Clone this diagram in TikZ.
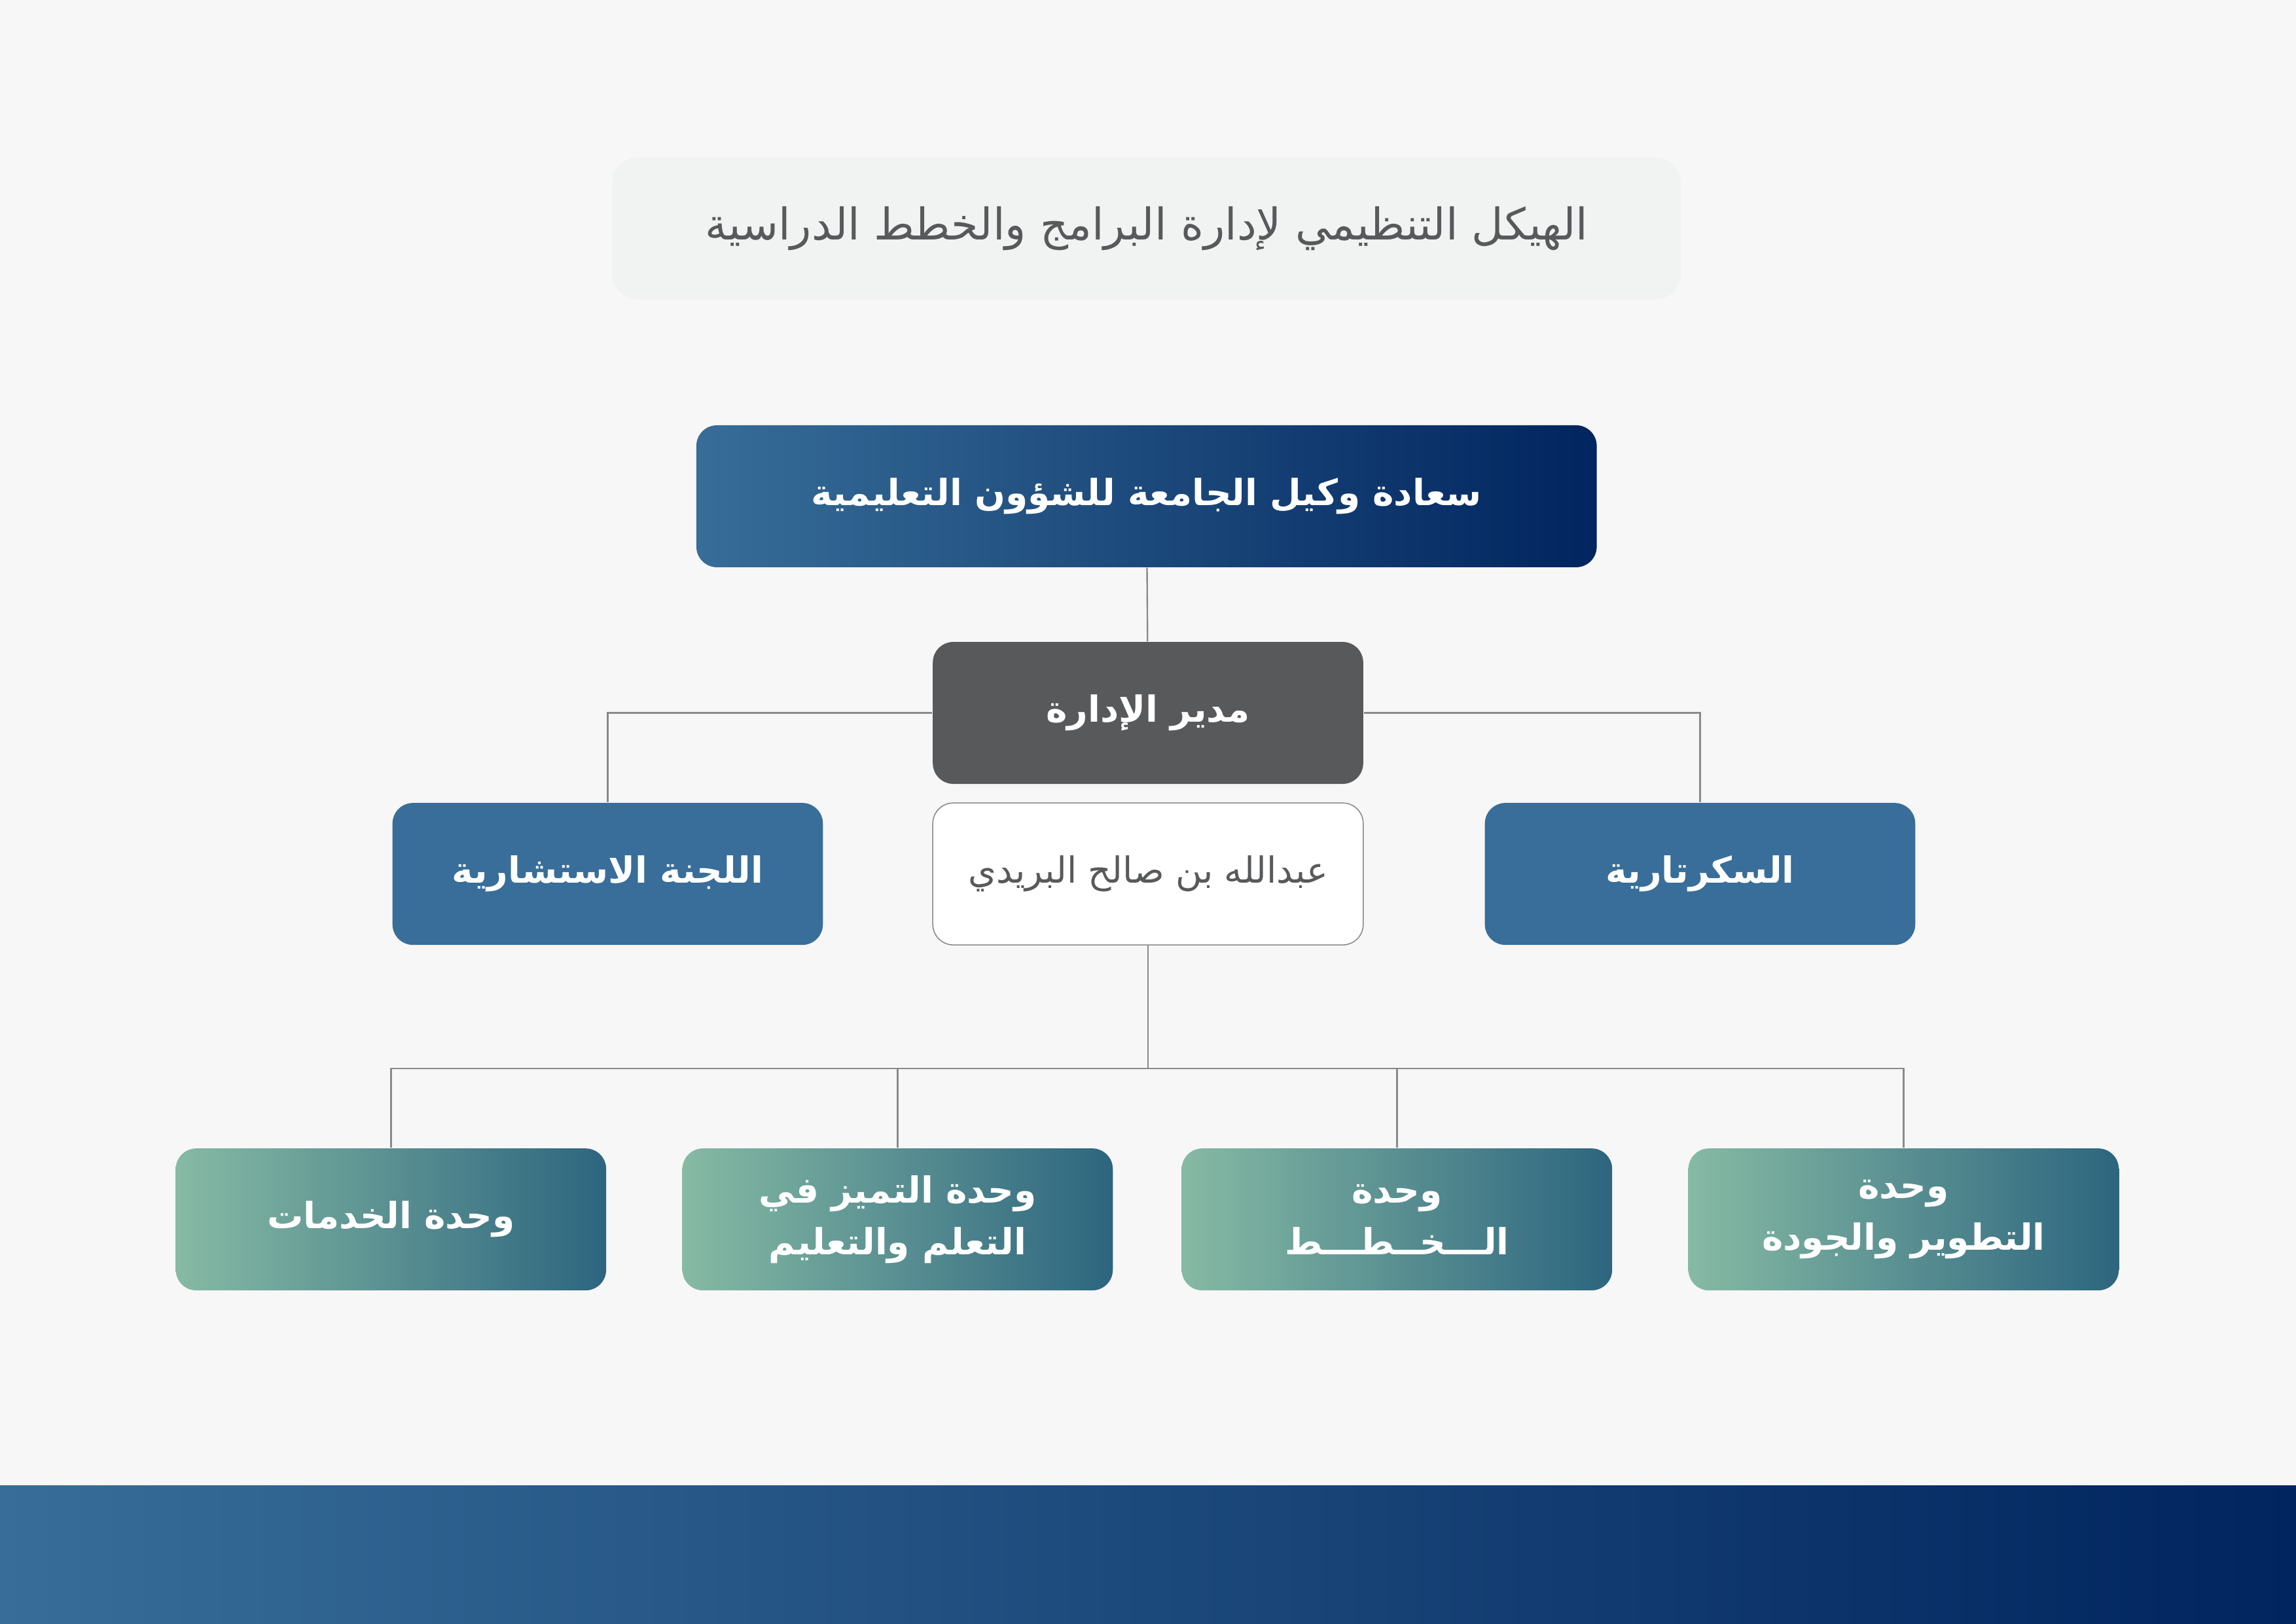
\documentclass[tikz,border=0pt]{standalone}
\usepackage{fontspec}
\TeXXeTstate=1
\newfontfamily\arabicfont[Script=Arabic]{DejaVu Sans}
\newcommand{\ar}[1]{\beginR #1\endR}
\definecolor{bgcol}{HTML}{F7F7F7}
\definecolor{titlecol}{HTML}{F1F2F2}
\definecolor{navyL}{HTML}{376D98}
\definecolor{navyR}{HTML}{01255F}
\definecolor{darkbox}{HTML}{58595B}
\definecolor{sidebox}{HTML}{386E99}
\definecolor{greenL}{HTML}{86BAA4}
\definecolor{tealR}{HTML}{2D657F}
\definecolor{linecol}{HTML}{8A8A8A}
\tikzset{
  box/.style={rounded corners=8pt, minimum width=5.88cm, minimum height=1.94cm,
    font=\arabicfont\bfseries\fontsize{14}{20}\selectfont, text=white, align=center},
  unitbox/.style={box, left color=greenL, right color=tealR},
  link/.style={draw=linecol, line width=0.6pt}
}
\begin{document}
\begin{tikzpicture}[x=0.02cm, y=-0.02cm]
\useasboundingbox (0,0) rectangle (1568,1109);
\fill[bgcol] (0,0) rectangle (1568,1109);
\shade[left color=navyL, right color=navyR] (0,1015) rectangle (1568,1109);
% title
\node[rounded corners=10pt, fill=titlecol, minimum width=14.6cm, minimum height=1.94cm,
  font=\arabicfont\fontsize{17}{20}\selectfont, text=darkbox] (title) at (783,156)
  {\ar{الهيكل التنظيمي لإدارة البرامج والخطط الدراسية}};
% top
\node[box, minimum width=12.3cm, left color=navyL, right color=navyR] (vice) at (783,339)
  {\ar{سعادة وكيل الجامعة للشؤون التعليمية}};
\node[box, fill=darkbox] (dir) at (784,487) {\ar{مدير الإدارة}};
\node[box, fill=white, draw=linecol, text=darkbox, font=\arabicfont\fontsize{14}{20}\selectfont]
  (name) at (784,597) {\ar{عبدالله بن صالح البريدي}};
\node[box, fill=sidebox] (adv) at (415,597) {\ar{اللجنة الاستشارية}};
\node[box, fill=sidebox] (sec) at (1161,597) {\ar{السكرتارية}};
% units
\node[unitbox] (u1) at (1300,833) {\ar{وحدة}\\\ar{التطوير والجودة}};
\node[unitbox] (u2) at (954,833) {\ar{وحدة}\\\ar{الـــخــطـــط}};
\node[unitbox] (u3) at (613,833) {\ar{وحدة التميز في}\\\ar{التعلم والتعليم}};
\node[unitbox] (u4) at (267,833) {\ar{وحدة الخدمات}};
% connectors
\coordinate (hub) at (784,730);
\draw[link] (vice) -- (dir);
\draw[link] (dir.west) -| (adv);
\draw[link] (dir.east) -| (sec);
\draw[link] (name) -- (hub);
\draw[link] (hub) -| (u1);
\draw[link] (hub) -| (u2);
\draw[link] (hub) -| (u3);
\draw[link] (hub) -| (u4);
\end{tikzpicture}
\end{document}
